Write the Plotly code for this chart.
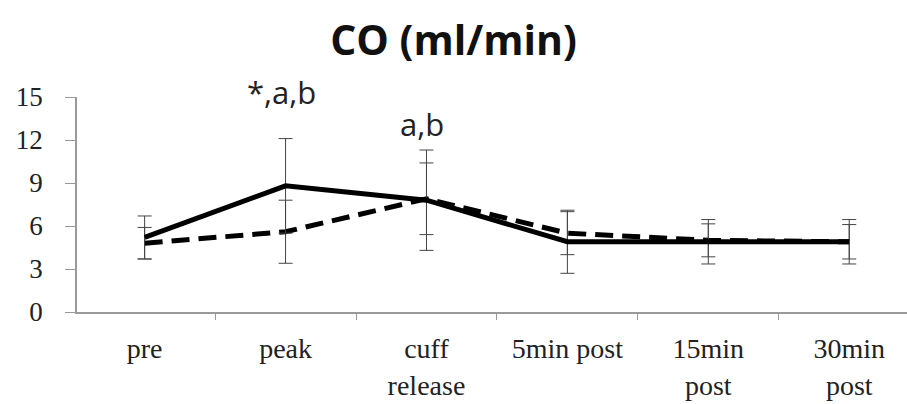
import plotly.graph_objects as go

categories = ["pre", "peak", "cuff<br>release", "5min post", "15min<br>post", "30min<br>post"]
solid_vals = [5.2, 8.8, 7.8, 4.9, 4.9, 4.9]
solid_err = [1.5, 3.3, 3.5, 2.2, 1.55, 1.55]
dashed_vals = [4.8, 5.6, 7.9, 5.5, 5.0, 4.9]
dashed_err = [1.1, 2.2, 2.5, 1.5, 1.15, 1.2]
y_ticks = [0, 3, 6, 9, 12, 15]
annotations_text = ["*,a,b", "a,b"]
annotation_cats = ["peak", "cuff<br>release"]
annotation_y = [1.025, 0.875]

fig = go.Figure()
fig.add_trace(go.Scatter(
    x=categories, y=dashed_vals, mode="lines", name="dashed",
    line=dict(color="black", width=5, dash="18px,9px"),
    error_y=dict(type="data", array=dashed_err, color="#444", thickness=1, width=7),
    cliponaxis=False,
))
fig.add_trace(go.Scatter(
    x=categories, y=solid_vals, mode="lines", name="solid",
    line=dict(color="black", width=5),
    error_y=dict(type="data", array=solid_err, color="#444", thickness=1, width=7),
    cliponaxis=False,
))

for t, c, yv in zip(annotations_text, annotation_cats, annotation_y):
    fig.add_annotation(x=c, y=yv, yref="paper", text=t, showarrow=False, xshift=-4,
                       font=dict(family="Open Sans", size=31, color="#222"),
                       yanchor="middle")

fig.update_layout(
    width=907, height=404, autosize=False,
    margin=dict(l=77, r=0, t=97, b=92),
    paper_bgcolor="white", plot_bgcolor="white",
    showlegend=False,
    title=dict(text="<b>CO (ml/min)</b>", x=0.5, xanchor="center", y=0.9, yanchor="middle",
               font=dict(family="Open Sans", size=41, color="#111")),
)
fig.update_xaxes(
    type="category", range=[-0.48, 5.41], automargin=False,
    showline=True, linecolor="#999", linewidth=1.5,
    ticks="outside", tickson="boundaries", ticklen=6, tickcolor="#999",
    showgrid=False, zeroline=False,
    ticklabelstandoff=11,
    tickfont=dict(family="Liberation Serif", size=28, color="#222"),
)
fig.update_yaxes(
    range=[0, 15], tickvals=y_ticks, automargin=False,
    showline=True, linecolor="#999", linewidth=1.5,
    ticks="outside", ticklen=10, tickcolor="#999",
    showgrid=False, zeroline=False,
    ticklabelstandoff=17,
    tickfont=dict(family="Liberation Serif", size=27, color="#222"),
)

fig.write_html("out.html", config={"displayModeBar": False},
               post_script="document.body.style.margin='0';document.body.style.overflow='hidden';")
